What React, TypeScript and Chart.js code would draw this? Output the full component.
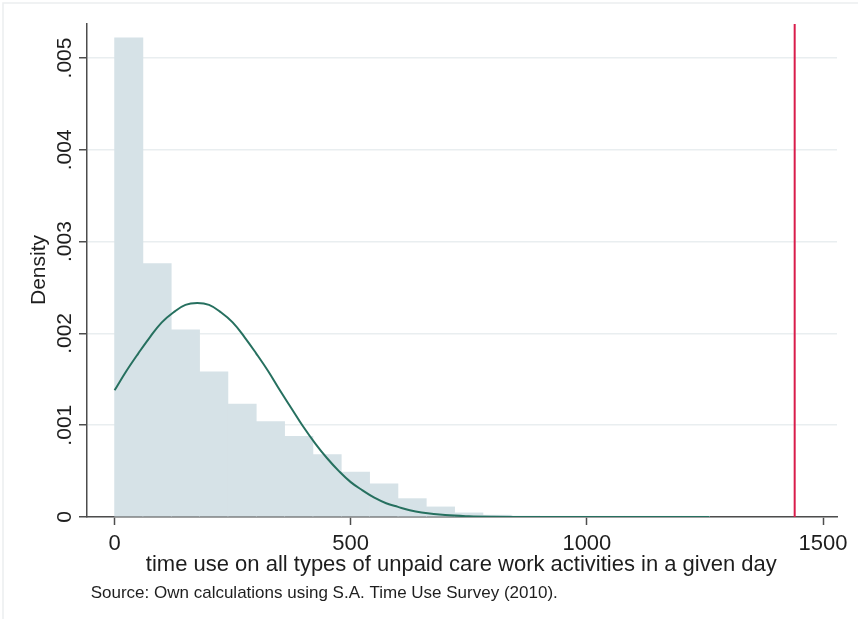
import React, { useEffect, useRef } from 'react';
import { Chart, registerables } from 'chart.js';

Chart.register(...registerables);

// ---- Data ----
const BIN_CENTERS = [30, 90, 150, 210, 270, 330, 390, 450, 510, 570, 630, 690, 750, 810, 870, 930, 990, 1050, 1110, 1170, 1230];
const BIN_DENSITY = [0.00522, 0.00276, 0.00204, 0.00158, 0.00123, 0.00104, 0.00088, 0.00068, 0.00049, 0.00036, 0.0002, 0.00011, 0.000045, 0.00002, 0.00001, 0.000006, 0.000004, 0.000003, 0.000002, 0.000002, 0.000001];

const CURVE_X = [0, 25, 50, 75, 100, 125, 150, 175, 200, 225, 250, 275, 300, 325, 350, 375, 400, 425, 450, 475, 500, 525, 550, 575, 600, 625, 650, 700, 750, 800, 900, 1000, 1100, 1260];
const CURVE_Y = [0.00138, 0.00159, 0.00178, 0.00196, 0.00212, 0.00223, 0.00231, 0.00233, 0.00231, 0.00223, 0.00212, 0.00196, 0.00178, 0.00159, 0.00138, 0.00118, 0.00098, 0.0008, 0.00064, 0.0005, 0.00038, 0.00029, 0.00021, 0.00015, 0.00011, 0.000073, 0.000049, 0.000021, 0.000008, 0.000003, 0.0000003, 0, 0, 0];

const RED_LINE_X = 1440;

const X_TICKS = [0, 500, 1000, 1500];
const X_TICK_LABELS = ['0', '500', '1000', '1500'];
const Y_TICKS = [0, 0.001, 0.002, 0.003, 0.004, 0.005];
const Y_TICK_LABELS = ['0', '.001', '.002', '.003', '.004', '.005'];

const X_MIN = -58.4;
const X_MAX = 1529.6;
const Y_MIN = 0;
const Y_MAX = 0.00537;

const X_TITLE = 'time use on all types of unpaid care work activities in a given day';
const Y_TITLE = 'Density';
const NOTE = 'Source: Own calculations using S.A. Time Use Survey (2010).';

const FONT = "'Liberation Sans', Arial, Helvetica, sans-serif";
const TEXT_COLOR = '#1e1e1e';
const AXIS_COLOR = '#4d4d4d';

const textPlugin = {
  id: 'stataText',
  beforeDraw(chart: any) {
    const { ctx, width, height } = chart;
    ctx.save();
    ctx.fillStyle = '#ffffff';
    ctx.fillRect(0, 0, width, height);
    ctx.strokeStyle = '#eceeef';
    ctx.lineWidth = 1.5;
    ctx.beginPath();
    ctx.moveTo(3, height - 4);
    ctx.lineTo(3, 3);
    ctx.lineTo(width, 3);
    ctx.stroke();
    ctx.restore();
  },
  afterDraw(chart: any) {
    const { ctx } = chart;
    const xs = chart.scales.x;
    const ys = chart.scales.y;
    ctx.save();
    ctx.fillStyle = TEXT_COLOR;

    // y tick labels (rotated)
    ctx.font = `21px ${FONT}`;
    ctx.textAlign = 'center';
    ctx.textBaseline = 'alphabetic';
    Y_TICKS.forEach((v, i) => {
      const py = ys.getPixelForValue(v);
      ctx.save();
      ctx.translate(70.5, py);
      ctx.rotate(-Math.PI / 2);
      ctx.fillText(Y_TICK_LABELS[i], 0, 0);
      ctx.restore();
    });

    // y title
    ctx.save();
    ctx.translate(45, 270);
    ctx.rotate(-Math.PI / 2);
    ctx.fillText(Y_TITLE, 0, 0);
    ctx.restore();

    // x tick labels
    ctx.font = `22px ${FONT}`;
    ctx.textAlign = 'center';
    X_TICKS.forEach((v, i) => {
      const px = xs.getPixelForValue(v);
      ctx.fillText(X_TICK_LABELS[i], px, 550);
    });

    // x title
    ctx.fillText(X_TITLE, 461.3, 570.5);

    // note
    ctx.font = `17px ${FONT}`;
    ctx.textAlign = 'left';
    ctx.fillText(NOTE, 90.7, 597.5);
    ctx.restore();
  },
};

export default function App() {
  const canvasRef = useRef<HTMLCanvasElement | null>(null);

  useEffect(() => {
    document.body.style.margin = '0';
    const canvas = canvasRef.current;
    if (!canvas) return;

    const chart = new Chart(canvas, {
      type: 'line',
      data: {
        datasets: [
          {
            type: 'line',
            label: 'cutoff',
            data: [
              { x: RED_LINE_X, y: Y_MIN },
              { x: RED_LINE_X, y: Y_MAX },
            ],
            borderColor: '#d91c4b',
            borderWidth: 2,
            pointRadius: 0,
            fill: false,
            order: 1,
          } as any,
          {
            type: 'line',
            label: 'normal',
            data: CURVE_X.map((x, i) => ({ x, y: CURVE_Y[i] })),
            borderColor: '#26705f',
            borderWidth: 2,
            pointRadius: 0,
            fill: false,
            tension: 0.4,
            order: 2,
          } as any,
          {
            type: 'bar',
            label: 'hist',
            data: BIN_CENTERS.map((x, i) => ({ x, y: BIN_DENSITY[i] })),
            backgroundColor: '#d6e2e7',
            borderWidth: 0,
            barPercentage: 1,
            categoryPercentage: 1,
            grouped: false,
            order: 3,
          } as any,
        ],
      },
      options: {
        animation: false,
        responsive: false,
        devicePixelRatio: 1,
        layout: { padding: { top: 24, right: 21, bottom: 0, left: 0 } },
        plugins: {
          legend: { display: false },
          tooltip: { enabled: false },
        },
        scales: {
          x: {
            type: 'linear',
            min: X_MIN,
            max: X_MAX,
            offset: false,
            afterBuildTicks: (scale: any) => {
              scale.ticks = X_TICKS.map((v) => ({ value: v }));
            },
            afterFit: (scale: any) => {
              scale.height = 106;
            },
            ticks: { display: false },
            grid: {
              display: true,
              offset: false,
              drawOnChartArea: false,
              drawTicks: true,
              tickLength: 8,
              tickColor: AXIS_COLOR,
              tickWidth: 1.5,
            },
            border: { display: true, color: AXIS_COLOR, width: 1.5 },
          },
          y: {
            type: 'linear',
            min: Y_MIN,
            max: Y_MAX,
            afterBuildTicks: (scale: any) => {
              scale.ticks = Y_TICKS.map((v) => ({ value: v }));
            },
            afterFit: (scale: any) => {
              scale.width = 87;
            },
            ticks: { display: false },
            grid: {
              display: true,
              offset: false,
              drawOnChartArea: true,
              color: '#e9eef0',
              lineWidth: 1.5,
              drawTicks: true,
              tickLength: 8,
              tickColor: AXIS_COLOR,
              tickWidth: 1.5,
            },
            border: { display: true, color: AXIS_COLOR, width: 1.5 },
          },
        },
      } as any,
      plugins: [textPlugin],
    });

    return () => {
      chart.destroy();
    };
  }, []);

  return (
    <div style={{ width: 858, height: 623, position: 'relative' }}>
      <canvas ref={canvasRef} width={858} height={623} style={{ display: 'block' }} />
    </div>
  );
}
